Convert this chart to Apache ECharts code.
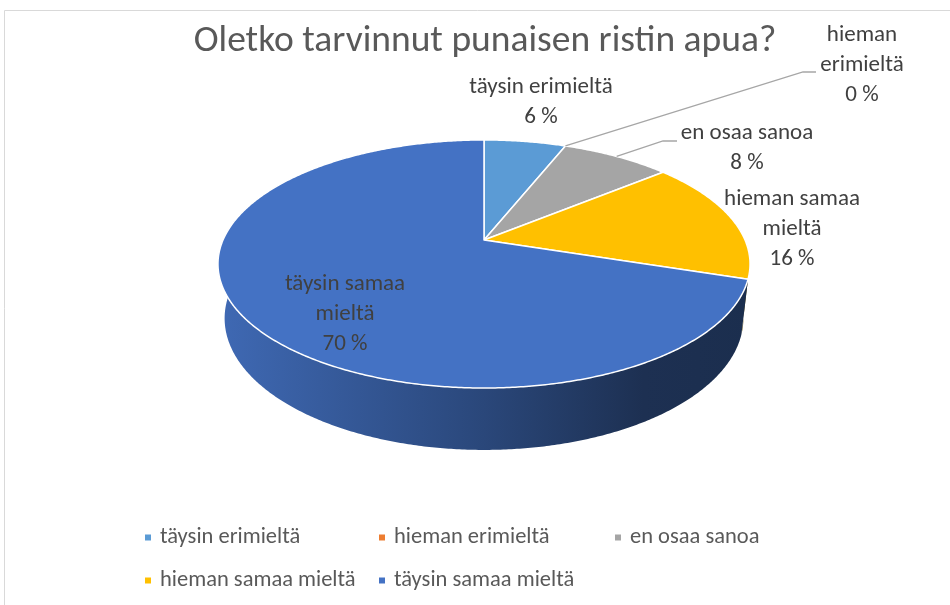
<!DOCTYPE html>
<html><head><meta charset="utf-8">
<script src="https://cdn.jsdelivr.net/npm/echarts@6/dist/echarts.min.js"></script>
<style>html,body{margin:0;padding:0;background:#fff}#c{width:950px;height:605px}</style>
</head><body><div id="c"></div>
<script>
// ---- data ----
const chartTitle = 'Oletko tarvinnut punaisen ristin apua?';
const categories = ['täysin erimieltä', 'hieman erimieltä', 'en osaa sanoa', 'hieman samaa mieltä', 'täysin samaa mieltä'];
const values = [6, 0, 8, 16, 70];
const labelNames = ['täysin erimieltä', 'hieman\nerimieltä', 'en osaa sanoa', 'hieman samaa\nmieltä', 'täysin samaa\nmieltä'];

// ---- styles / layout ----
const colors = ['#5B9BD5', '#ED7D31', '#A5A5A5', '#FFC000', '#4472C4'];
const FONT = 'Carlito, Lato, "Noto Sans", sans-serif';
const G = { cx: 484, cy: 240, A: 261, B: 119.4, k: 0.1935, H: 52.9, shrink: 0.975 };
const labelPos = [[541, 102], [862, 65], [747, 148], [792, 229], [345, 314]];
const leaderElbow = [null, [[803, 72], [816, 72]], [[663, 141], [677, 141]], null, null];
const legendPos = [[145, 526], [379, 526], [615, 526], [145, 569], [379, 569]];

const total = values.reduce((a, b) => a + b, 0);
const cumStart = [];
values.reduce((acc, v, i) => { cumStart[i] = acc; return acc + v; }, 0);

function topPt(deg) {
  const r = deg * Math.PI / 180, u = Math.sin(r), v = -Math.cos(r), s = 1 / (1 - G.k * v);
  return [G.cx + G.A * u * s, G.cy + G.B * v * s];
}
function botPt(deg) {
  const r = deg * Math.PI / 180, u = Math.sin(r), v = -Math.cos(r), s = 1 / (1 - G.k * v);
  return [G.cx + G.A * u * s * G.shrink, G.cy + G.B * v * s * G.shrink + G.H * s];
}
function arc(f, a0, a1) {
  const pts = [], n = Math.max(2, Math.ceil((a1 - a0) / 0.5));
  for (let j = 0; j <= n; j++) pts.push(f(a0 + (a1 - a0) * j / n));
  return pts;
}
function shade(hex, f) {
  const n = parseInt(hex.slice(1), 16);
  const r = Math.round(((n >> 16) & 255) * f), g = Math.round(((n >> 8) & 255) * f), b = Math.round((n & 255) * f);
  return 'rgb(' + r + ',' + g + ',' + b + ')';
}

const chart = echarts.init(document.getElementById('c'), null, { renderer: 'canvas' });

const legends = categories.map((name, i) => ({
  data: [name],
  left: legendPos[i][0], top: legendPos[i][1], padding: 0,
  icon: 'rect', itemWidth: 6, itemHeight: 6,
  selectedMode: false,
  textStyle: { fontSize: 22.5, color: '#595959', fontFamily: FONT, padding: [0, 0, 0, 4] }
}));

chart.setOption({
  animation: false,
  title: {
    text: chartTitle, left: 480, top: 18, textAlign: 'center',
    textStyle: { fontSize: 37.5, fontWeight: 'normal', color: '#595959', fontFamily: FONT }
  },
  legend: legends,
  graphic: [{
    type: 'rect', silent: true, z: -10,
    shape: { x: 4.5, y: 10.5, width: 980, height: 640 },
    style: { fill: 'none', stroke: '#d9d9d9', lineWidth: 1 }
  }],
  series: [
    {
      type: 'pie', name: 'legendHelper', radius: [0, 0], center: [-100, -100], silent: true,
      label: { show: false }, labelLine: { show: false },
      data: categories.map((c, i) => ({ name: c, value: values[i], itemStyle: { color: colors[i] } }))
    },
    {
      type: 'custom', name: 'pie3d', coordinateSystem: 'none',
      data: values.map((v, i) => [cumStart[i], v]),
      renderItem: function (params, api) {
        const i = params.dataIndex;
        const start = api.value(0), val = api.value(1);
        const a0 = start / total * 360, a1 = (start + val) / total * 360;
        const children = [];
        if (val > 0) {
          const s0 = Math.max(a0, 80), s1 = Math.min(a1, 280);
          if (s1 > s0) {
            const t = arc(topPt, s0, s1), b = arc(botPt, s0, s1).reverse();
            children.push({
              type: 'polygon', z2: 1,
              shape: { points: t.concat(b) },
              style: {
                fill: {
                  type: 'linear', x: 218, y: 0, x2: 750, y2: 0, global: true,
                  colorStops: [
                    { offset: 0, color: shade(colors[i], 0.92) },
                    { offset: 0.5, color: shade(colors[i], 0.62) },
                    { offset: 0.8, color: shade(colors[i], 0.42) },
                    { offset: 1, color: shade(colors[i], 0.40) }
                  ]
                }
              }
            });
          }
          children.push({
            type: 'polygon', z2: 10,
            shape: { points: [[G.cx, G.cy]].concat(arc(topPt, a0, a1)) },
            style: { fill: colors[i], stroke: '#ffffff', lineWidth: 1.5, lineJoin: 'round' }
          });
        }
        if (leaderElbow[i]) {
          const mid = topPt((a0 + a1) / 2);
          children.push({
            type: 'polyline', z2: 15,
            shape: { points: [mid].concat(leaderElbow[i]) },
            style: { fill: null, stroke: '#a6a6a6', lineWidth: 1.3 }
          });
        }
        const pct = Math.round(val / total * 100) + ' %';
        children.push({
          type: 'text', z2: 20,
          style: {
            text: labelNames[i] + '\n' + pct,
            x: labelPos[i][0], y: labelPos[i][1],
            align: 'center', verticalAlign: 'middle',
            fontSize: 23, lineHeight: 30, fontFamily: FONT, fill: '#404040'
          }
        });
        return { type: 'group', children: children };
      }
    }
  ]
});
</script>
</body></html>
